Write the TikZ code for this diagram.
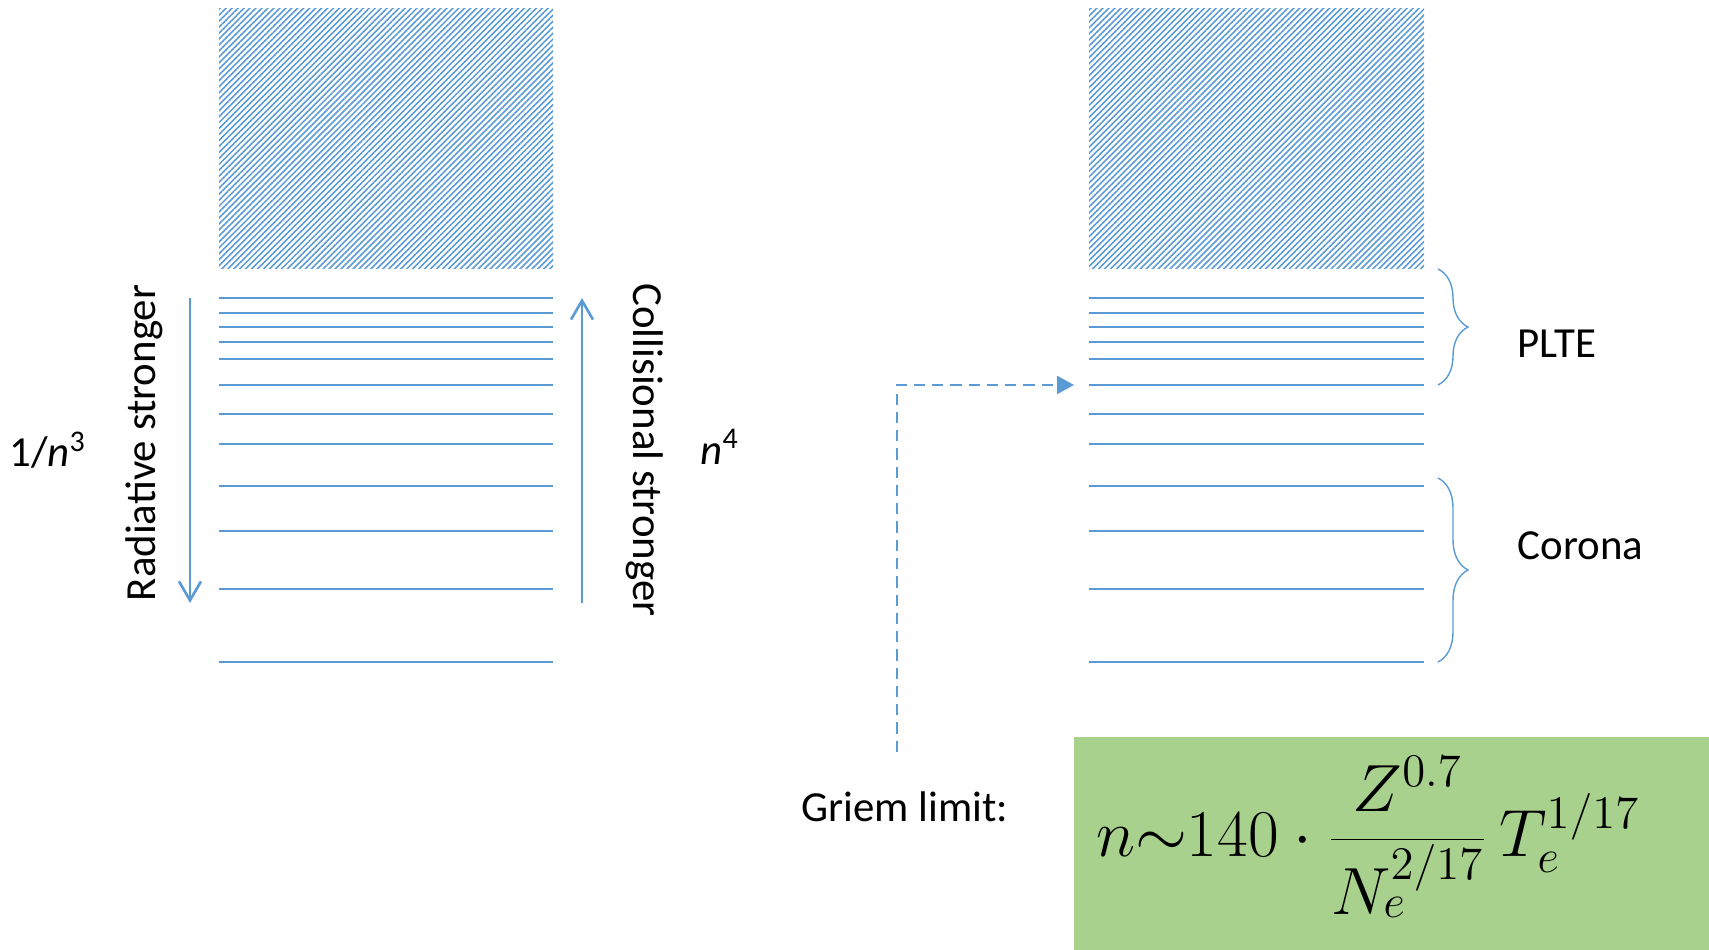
\documentclass[tikz,border=0pt]{standalone}
\usepackage{fix-cm}
\usepackage[no-math]{fontspec}
\setmainfont{Carlito}
\usetikzlibrary{arrows.meta,patterns.meta,decorations.pathreplacing}
\definecolor{lvlblue}{HTML}{5B9BD5}
\definecolor{boxgreen}{HTML}{A9D18E}
\begin{document}
\begin{tikzpicture}[
    level/.style={draw=lvlblue,line width=0.55pt},
    hatch/.style={pattern={Lines[angle=45,distance=1.2pt,line width=0.45pt]},pattern color=lvlblue},
    rate/.style={draw=lvlblue,line width=0.75pt,-{Straight Barb[length=1.9mm,width=2.2mm,line width=0.75pt]}},
    region/.style={draw=lvlblue,line width=0.4pt,decorate,decoration={brace,amplitude=0.3cm}},
    lbl/.style={font=\fontsize{12.2}{14.6}\selectfont,inner sep=0pt}
  ]
  \useasboundingbox (0,0) rectangle (17.09,9.5);

  % continuum
  \fill[hatch] (2.19,6.81) rectangle (5.53,9.41);
  \fill[hatch] (10.89,6.81) rectangle (14.24,9.41);

  % bound levels
  \foreach \y [count=\i] in {6.52,6.37,6.23,6.08,5.91,5.65,5.36,5.06,4.64,4.19,3.61,2.88} {
    \coordinate (la\i) at (2.19,\y);
    \coordinate (lb\i) at (5.53,\y);
    \coordinate (ra\i) at (10.89,\y);
    \coordinate (rb\i) at (14.24,\y);
    \draw[level] (la\i) -- (lb\i);
    \draw[level] (ra\i) -- (rb\i);
  }

  % left panel
  \coordinate (radtop) at (1.90,6.52);
  \coordinate (radbot) at (1.90,3.47);
  \coordinate (coltop) at (5.82,6.52);
  \coordinate (colbot) at (5.82,3.47);
  \draw[rate] (radtop) -- (radbot);
  \draw[rate] (colbot) -- (coltop);
  \node[lbl,rotate=90] (radtxt) at (1.44,5.07) {Radiative stronger};
  \node[lbl,rotate=-90] (coltxt) at (6.45,5.00) {Collisional stronger};
  \node[lbl] (radlaw) at (0.48,5.00) {1/\textit{n}\textsuperscript{3}};
  \node[lbl] (collaw) at (7.20,5.03) {\textit{n}\textsuperscript{4}};

  % right panel
  \draw[region] (14.38,6.81) -- (14.38,5.65);
  \draw[region] (14.38,4.72) -- (14.38,2.88);
  \node[lbl,anchor=west] (plte) at (15.17,6.06) {PLTE};
  \node[lbl,anchor=west] (corona) at (15.17,4.04) {Corona};

  % Griem limit
  \fill[boxgreen] (10.74,0) rectangle (17.09,2.13);
  \node[lbl,anchor=west] (griem) at (8.01,1.43) {Griem limit:};
  \node[inner sep=0pt] (formula) at (13.68,1.13)
    {\fontsize{19}{23}\selectfont$\displaystyle n{\sim}140\cdot\frac{Z^{0.7}}{N_e^{2/17}}\,T_e^{1/17}$};
  \coordinate (griemend) at (8.97,1.98);
  \draw[lvlblue,line width=0.65pt,dash pattern=on 3.2pt off 2pt,
        -{Triangle[length=1.7mm,width=1.8mm]},shorten >=0.15cm]
    (griemend) |- (ra6);
\end{tikzpicture}
\end{document}
